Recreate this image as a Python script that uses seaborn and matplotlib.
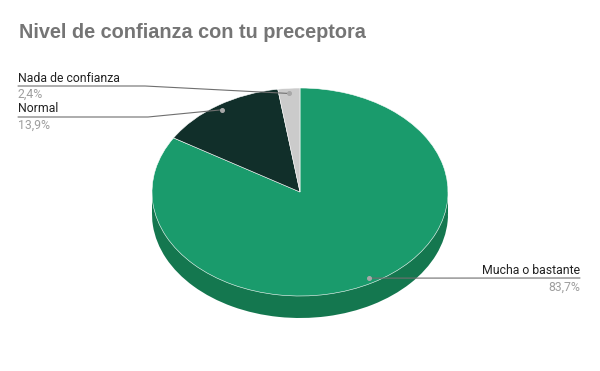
import matplotlib
matplotlib.use("Agg")
import matplotlib.pyplot as plt
import seaborn as sns
import numpy as np
from matplotlib.lines import Line2D

categories = ["Mucha o bastante", "Normal", "Nada de confianza"]
values = [83.7, 13.9, 2.4]
pct_labels = ["83,7%", "13,9%", "2,4%"]
title = "Nivel de confianza con tu preceptora"

top_colors = ["#1a9b6c", "#112f2a", "#cbcbcb"]
side_colors = ["#14774f", "#0b1f1b", "#9a9a9a"]

sns.set_theme(style="white")
plt.rcParams["font.family"] = ["Roboto", "DejaVu Sans"]

W, H = 600, 371
fig = plt.figure(figsize=(W / 100, H / 100), dpi=100)
ax = fig.add_axes([0, 0, 1, 1])
ax.set_axis_off()

# pixel geometry of the pie
cx, cy = 300, 192
rx, ry = 148, 104
depth = 22
ax.set_xlim(-cx / rx, (W - cx) / rx)
ax.set_ylim((cy - H) / ry, cy / ry)
ax.set_aspect("auto")

d = depth / ry
# side (extrusion)
ax.pie(values, colors=side_colors, startangle=90, counterclock=False,
       center=(0, -d), radius=1, wedgeprops=dict(linewidth=0))
xs = np.linspace(-1, 1, 400)
ax.fill_between(xs, -d, 0, color=side_colors[0], linewidth=0)
# top face
wedges, _ = ax.pie(values, colors=top_colors, startangle=90, counterclock=False,
                   radius=1, wedgeprops=dict(linewidth=0.4, edgecolor="white"))
ax.set_xlim(-cx / rx, (W - cx) / rx)
ax.set_ylim((cy - H) / ry, cy / ry)
ax.set_aspect("auto")

fig.canvas.draw()

def to_px(xd, yd):
    X, Y = ax.transData.transform((xd, yd))
    return X, Y

def fy(y):
    return H - y

line_c = "#6f6f6f"
fs_name = 8.8
fs_pct = 8.8

label_layout = {
    "Nada de confianza": dict(side="left", text_y=79, line_y=86, knee_x=145, pct_y=94),
    "Normal": dict(side="left", text_y=109, line_y=117, knee_x=148, pct_y=125),
    "Mucha o bastante": dict(side="right", text_y=270, line_y=278, knee_x=None, pct_y=287),
}

for w, cat, pct in zip(wedges, categories, pct_labels):
    ang = np.deg2rad((w.theta1 + w.theta2) / 2)
    dx, dy = to_px(0.95 * np.cos(ang), 0.95 * np.sin(ang))
    L = label_layout[cat]
    ly = fy(L["line_y"])
    if L["side"] == "left":
        xsl = [18, L["knee_x"], dx]
        ysl = [ly, ly, dy]
        fig.text(18 / W, fy(L["text_y"]) / H, cat, ha="left", va="center",
                 fontsize=fs_name, color="#222222")
        fig.text(18 / W, fy(L["pct_y"]) / H, pct, ha="left", va="center",
                 fontsize=fs_pct, color="#9e9e9e")
    else:
        xsl = [580, dx]
        ysl = [ly, dy]
        fig.text(580 / W, fy(L["text_y"]) / H, cat, ha="right", va="center",
                 fontsize=fs_name, color="#222222")
        fig.text(580 / W, fy(L["pct_y"]) / H, pct, ha="right", va="center",
                 fontsize=fs_pct, color="#9e9e9e")
    fig.add_artist(Line2D([x / W for x in xsl], [y / H for y in ysl],
                          color=line_c, linewidth=0.8))
    fig.add_artist(Line2D([dx / W], [dy / H], marker="o", markersize=2.6,
                          color="#a8a8a8", linewidth=0))

fig.text(19 / W, fy(37.5) / H, title, ha="left", va="baseline",
         fontsize=14.3, fontweight="bold", color="#757575",
         family=["Liberation Sans", "DejaVu Sans"])

fig.savefig("out.png", dpi=100)
